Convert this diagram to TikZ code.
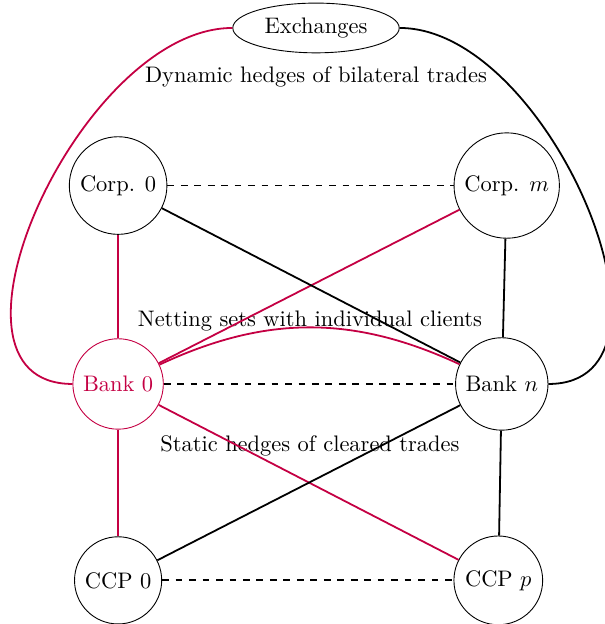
\documentclass[tikz,border=0pt]{standalone}
\usepackage{amsmath}
\usepackage{tikz}
\usetikzlibrary{positioning,shapes.geometric,calc}
\definecolor{bankred}{RGB}{196,0,67}

\begin{document}
\begin{tikzpicture}[party/.style={circle, draw}, link/.style={thick}, redlink/.style={thick, bankred}, node distance=1.67cm and 4.56cm]
        \useasboundingbox (-52.6pt,-106.9pt) rectangle (216.5pt,171pt);
        \node[party, draw=bankred, text=bankred] (bank0) at (0,0) {Bank 0};
        \node[party, above=1.62cm of bank0] (corp0) {Corp. 0};
        \node[party, below=of bank0] (ccp0) {CCP 0};
        \node[party, right=4.48cm of corp0] (corpm) {Corp. $m$};
        \node[party, right=of bank0] (bankn) {Bank $n$};
        \node[party, right=of ccp0] (ccpp) {CCP $p$};
        \node[ellipse, draw, above=2.07cm of $(corp0)!0.5!(corpm)$, xshift=1.6pt] (exch) {Exchanges};
        \node[below=0.09cm of exch] (dynamic) {Dynamic hedges of bilateral trades};
        \node[above=0.7cm of $(bank0)!0.5!(bankn)$] (netting) {Netting sets with individual clients};
        \node[below=0.68cm of $(bank0)!0.5!(bankn)$] (static) {Static hedges of cleared trades};
        \draw[link, dashed] (corp0) -- (corpm);
        \draw[link, dashed] (bank0) -- (bankn);
        \draw[link, dashed] (ccp0) -- (ccpp);
        \draw[redlink] (corp0) -- (bank0);
        \draw[redlink] (corpm) -- (bank0);
        \draw[redlink] (bank0) -- (ccp0);
        \draw[redlink] (bank0) -- (ccpp);
        \draw[redlink] (bank0) to[bend left=25] (bankn);
        \draw[link] (corp0) -- (bankn);
        \draw[link] (corpm) -- (bankn);
        \draw[link] (bankn) -- (ccp0);
        \draw[link] (bankn) -- (ccpp);
        \draw[redlink] (exch.west) to[out=180, in=180] (bank0.west);
        \draw[link] (exch.east) to[out=0, in=0] (bankn.east);
      \end{tikzpicture}
\end{document}
